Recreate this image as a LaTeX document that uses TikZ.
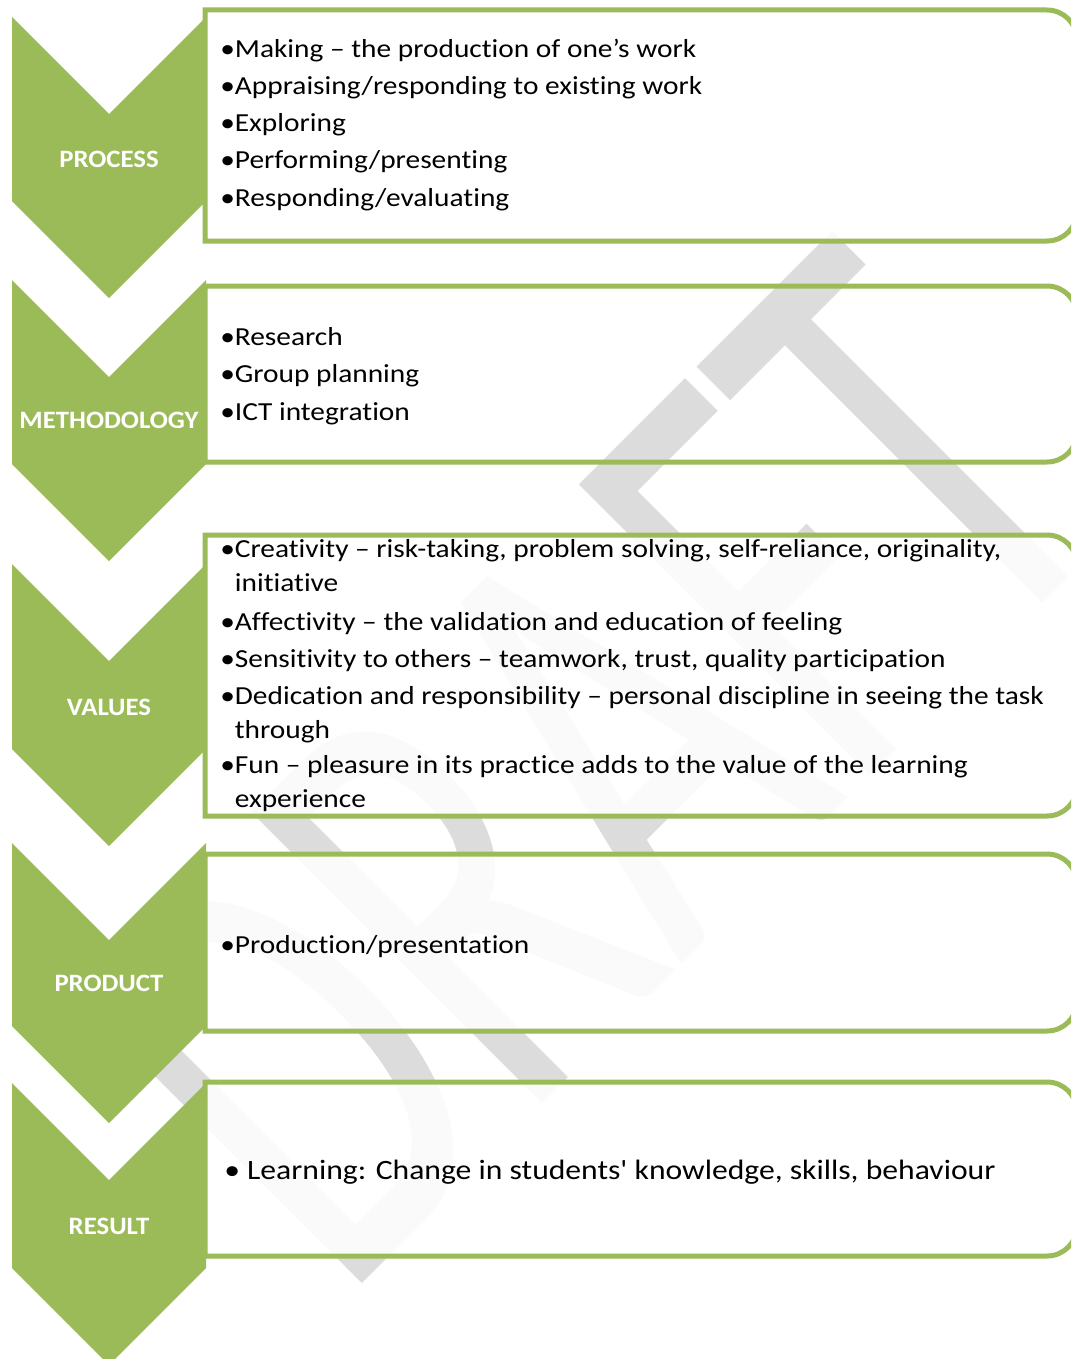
\documentclass[tikz,border=0pt]{standalone}
\usepackage{fontspec}
\usepackage{graphicx}
\newfontfamily\calfont{Carlito}
\newfontfamily\bodyfont{Carlito}[FakeStretch=1.13, Ligatures=CommonOff]
\newfontfamily\tagfont{Carlito}[FakeStretch=1.07]
\definecolor{leaf}{HTML}{9BBB59}
\definecolor{wmgray}{RGB}{220,220,220}
\begin{document}
\begin{tikzpicture}[x=0.75pt,y=-0.75pt,
  chevron/.style={fill=leaf, draw=none},
  panel/.style={draw=leaf, line width=3.75pt},
  veil/.style={fill=white, fill opacity=0.88},
  tag/.style={text=white, inner sep=0, font=\tagfont\bfseries\fontsize{18.75}{22}\selectfont},
  item/.style={anchor=base west, inner sep=0, align=left, font=\bodyfont\fontsize{19.5}{25.5}\selectfont},
  wmark/.style={text=wmgray, inner sep=0, font=\calfont\fontsize{481}{481}\selectfont}]
\useasboundingbox (0,0) rectangle (1071,1359);
\clip (0,0) rectangle (1071,1359);
\fill[white] (0,0) rectangle (1071,1359);

% watermark
\node[wmark, rotate=45] (draft) at (589,766) {\scalebox{0.645}[1]{DRAFT}};

% text panels, square on the left, rounded on the right
\draw[panel, veil] (205,241) -- (205,10) -- (640,10) [rounded corners=22.5pt] -- (1077,10) -- (1077,241) -- (640,241) [sharp corners] -- cycle;
\draw[panel] (205,462) -- (205,286) -- (640,286) [rounded corners=22.5pt] -- (1077,286) -- (1077,462) -- (640,462) [sharp corners] -- cycle;
\draw[panel, veil] (205,816) -- (205,535) -- (640,535) [rounded corners=22.5pt] -- (1077,535) -- (1077,816) -- (640,816) [sharp corners] -- cycle;
\draw[panel, veil] (205,1031) -- (205,854) -- (640,854) [rounded corners=22.5pt] -- (1077,854) -- (1077,1031) -- (640,1031) [sharp corners] -- cycle;
\draw[panel, veil] (205,1256) -- (205,1082) -- (640,1082) [rounded corners=22.5pt] -- (1077,1082) -- (1077,1256) -- (640,1256) [sharp corners] -- cycle;

% chevrons
\foreach \t/\p in {17/298, 280/561, 564/846, 843/1123, 1083/1365}
  \fill[chevron] (12,\t) -- (109,\t+97) -- (206,\t) -- (206,\p-97) -- (109,\p) -- (12,\p-97) -- cycle;

% chevron labels
\node[tag] (tproc) at (109,159) {PROCESS};
\node[tag] (tmeth) at (109,420) {METHODOLOGY};
\node[tag] (tval) at (109,707) {VALUES};
\node[tag] (tprod) at (109,983) {PRODUCT};
\node[tag] (tres) at (109,1226) {RESULT};

% process
\node[item] (p1) at (220,58) {•Making – the production of one’s work};
\node[item] (p2) at (220,95) {•Appraising/responding to existing work};
\node[item] (p3) at (220,132) {•Exploring};
\node[item] (p4) at (220,169) {•Performing/presenting};
\node[item] (p5) at (220,206) {•Responding/evaluating};

% methodology
\node[item] (m1) at (220,345) {•Research};
\node[item] (m2) at (220,382) {•Group planning};
\node[item] (m3) at (220,420) {•ICT integration};

% values (two-line items sit on the baseline of their last line)
\node[item] (v1) at (220,591) {•Creativity – risk-taking, problem solving, self-reliance, originality,\\\phantom{•}initiative};
\node[item] (v2) at (220,630) {•Affectivity – the validation and education of feeling};
\node[item] (v3) at (220,667) {•Sensitivity to others – teamwork, trust, quality participation};
\node[item] (v4) at (220,738) {•Dedication and responsibility – personal discipline in seeing the task\\\phantom{•}through};
\node[item] (v5) at (220,807) {•Fun – pleasure in its practice adds to the value of the learning\\\phantom{•}experience};

% product
\node[item] (d1) at (220,953) {•Production/presentation};

% result
\node[item, font=\bodyfont\fontsize{21}{26}\selectfont] (r1) at (224,1179) {• Learning: Change in students' knowledge, skills, behaviour};
\end{tikzpicture}
\end{document}
